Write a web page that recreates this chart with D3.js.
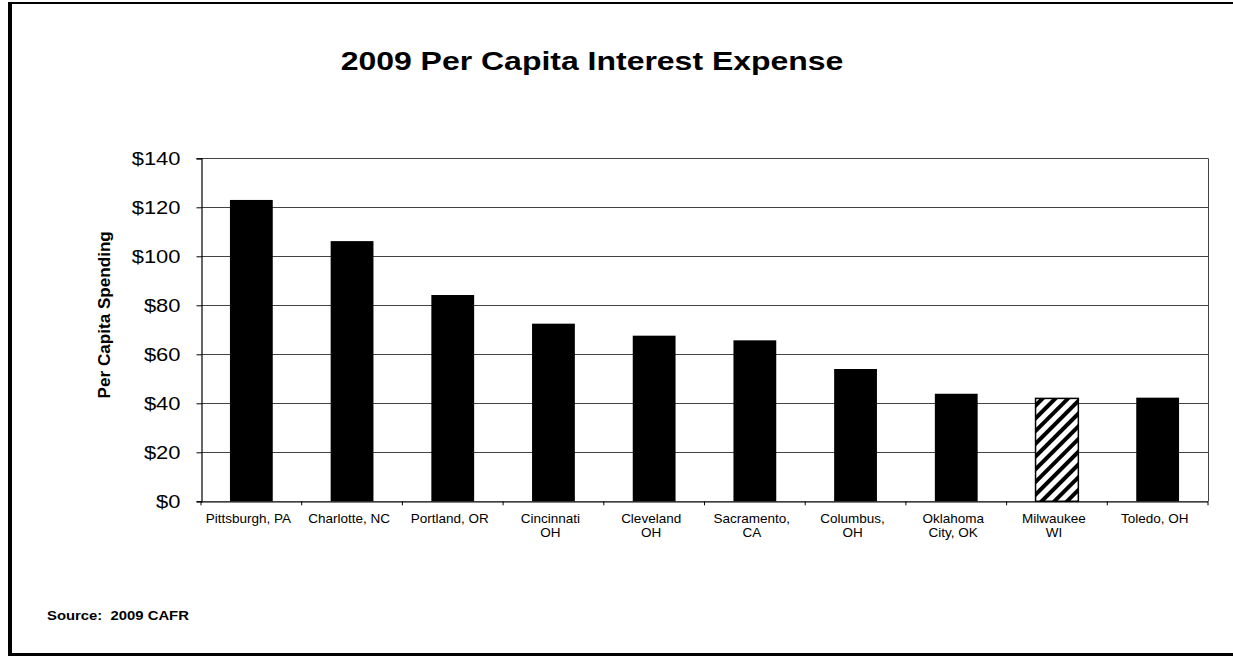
<!DOCTYPE html>
<html>
<head>
<meta charset="utf-8">
<script src="https://cdn.jsdelivr.net/npm/d3@7"></script>
<style>
  html, body { margin: 0; padding: 0; background: #fff; }
  svg { display: block; font-family: "Liberation Sans", Arial, sans-serif; }
</style>
</head>
<body>
<svg id="chart" width="1233" height="657"></svg>
<script>
// City labels (each entry is the lines of one label)
const cities = [
  ["Pittsburgh, PA"],
  ["Charlotte, NC"],
  ["Portland, OR"],
  ["Cincinnati", "OH"],
  ["Cleveland", "OH"],
  ["Sacramento,", "CA"],
  ["Columbus,", "OH"],
  ["Oklahoma", "City, OK"],
  ["Milwaukee", "WI"],
  ["Toledo, OH"]
];
// 2009 per capita interest expense, dollars
const interest = [123, 106.2, 84.2, 72.5, 67.6, 65.7, 54, 43.9, 42, 42.3];
// Which city is highlighted with the hatched fill
const highlighted = ["Milwaukee"];
const yTicks = [0, 20, 40, 60, 80, 100, 120, 140];

const svg = d3.select("#chart");
const W = 1233, H = 657;
const margin = { left: 201, right: 25, top: 158.3, bottom: 155.7 };
const x0 = margin.left, x1 = W - margin.right;
const y0 = H - margin.bottom, y1 = margin.top;

// outer frame: heavy left edge, thin top and bottom rules
svg.append("rect").attr("x", 8).attr("y", 2).attr("width", 4).attr("height", 653).attr("fill", "#000");
svg.append("line").attr("x1", 8).attr("x2", W).attr("y1", 3).attr("y2", 3).attr("stroke", "#000").attr("stroke-width", 2);
svg.append("line").attr("x1", 8).attr("x2", W).attr("y1", 654.5).attr("y2", 654.5).attr("stroke", "#000").attr("stroke-width", 3);

// hatch pattern
const defs = svg.append("defs");
const pat = defs.append("pattern")
  .attr("id", "hatch").attr("patternUnits", "userSpaceOnUse")
  .attr("width", 9).attr("height", 9)
  .attr("patternTransform", "rotate(45)");
pat.append("rect").attr("width", 9).attr("height", 9).attr("fill", "#fff");
pat.append("rect").attr("x", 0).attr("y", 0).attr("width", 4).attr("height", 9).attr("fill", "#000");

const names = cities.map(c => c.join(" "));
const x = d3.scaleBand().domain(names).range([x0, x1]).paddingInner(0.575).paddingOuter(0.2875);
const y = d3.scaleLinear().domain([0, 140]).range([y0, y1]);

// title (wide set)
svg.append("text")
  .attr("transform", "translate(592,70) scale(1.23,1)")
  .attr("text-anchor", "middle")
  .attr("font-size", 26).attr("font-weight", "bold").text("2009 Per Capita Interest Expense");

// gridlines
svg.append("g").selectAll("line").data(yTicks.filter(d => d > 0)).join("line")
  .attr("x1", x0).attr("x2", x1)
  .attr("y1", d => Math.round(y(d)) + 0.5).attr("y2", d => Math.round(y(d)) + 0.5)
  .attr("stroke", "#444").attr("stroke-width", 1);

// right plot border
svg.append("line").attr("x1", x1 + 0.5).attr("x2", x1 + 0.5).attr("y1", y1).attr("y2", y0)
  .attr("stroke", "#444").attr("stroke-width", 1);

// bars
svg.append("g").selectAll("rect").data(interest).join("rect")
  .attr("x", (d, i) => x(names[i]))
  .attr("width", x.bandwidth())
  .attr("y", d => y(d))
  .attr("height", d => y0 - y(d))
  .attr("fill", (d, i) => highlighted.includes(cities[i][0]) ? "url(#hatch)" : "#000")
  .attr("stroke", "#000")
  .attr("stroke-width", (d, i) => highlighted.includes(cities[i][0]) ? 1.5 : 0);

// y axis
const sxTick = 1.22;
const yAxis = d3.axisLeft(y).tickValues(yTicks).tickSize(5).tickFormat(d => "$" + d);
const gy = svg.append("g").attr("transform", `translate(${x0 + 0.5},0)`).call(yAxis);
gy.select(".domain").attr("stroke", "#000").attr("stroke-width", 1.2);
gy.selectAll(".tick line").attr("stroke", "#000");
gy.selectAll(".tick text")
  .attr("font-size", 18).attr("fill", "#000")
  .attr("font-family", "Liberation Sans, Arial, sans-serif")
  .attr("x", -21 / sxTick)
  .attr("transform", `scale(${sxTick},1)`);

// x axis: ticks between categories
const bounds = names.map(n => x(n) - x.step() * x.paddingInner() / 2).concat([x1]);
svg.append("line").attr("x1", x0).attr("x2", x1).attr("y1", y0 + 0.5).attr("y2", y0 + 0.5)
  .attr("stroke", "#000").attr("stroke-width", 1.2);
svg.append("g").selectAll("line").data(bounds).join("line")
  .attr("x1", d => d).attr("x2", d => d)
  .attr("y1", y0).attr("y2", y0 + 4).attr("stroke", "#000");

// category labels
const lab = svg.append("g").selectAll("text").data(cities).join("text")
  .attr("x", (d, i) => x(names[i]) + x.bandwidth() / 2 - 3)
  .attr("y", y0 + 21.5)
  .attr("text-anchor", "middle")
  .attr("font-size", 13.5).attr("fill", "#000");
lab.selectAll("tspan").data(d => d).join("tspan")
  .attr("x", function () { return d3.select(this.parentNode).attr("x"); })
  .attr("dy", (d, i) => i === 0 ? 0 : 14)
  .text(d => d);

// y axis title
svg.append("text")
  .attr("transform", `translate(110,${(y0 + y1) / 2 - 15}) rotate(-90) scale(1.07,1)`)
  .attr("text-anchor", "middle").attr("font-size", 16).attr("font-weight", "bold")
  .text("Per Capita Spending");

// source note
svg.append("text")
  .attr("transform", "translate(47,620) scale(1.1,1)")
  .attr("font-size", 13.5).attr("font-weight", "bold")
  .attr("xml:space", "preserve").text("Source:  2009 CAFR");
</script>
</body>
</html>
